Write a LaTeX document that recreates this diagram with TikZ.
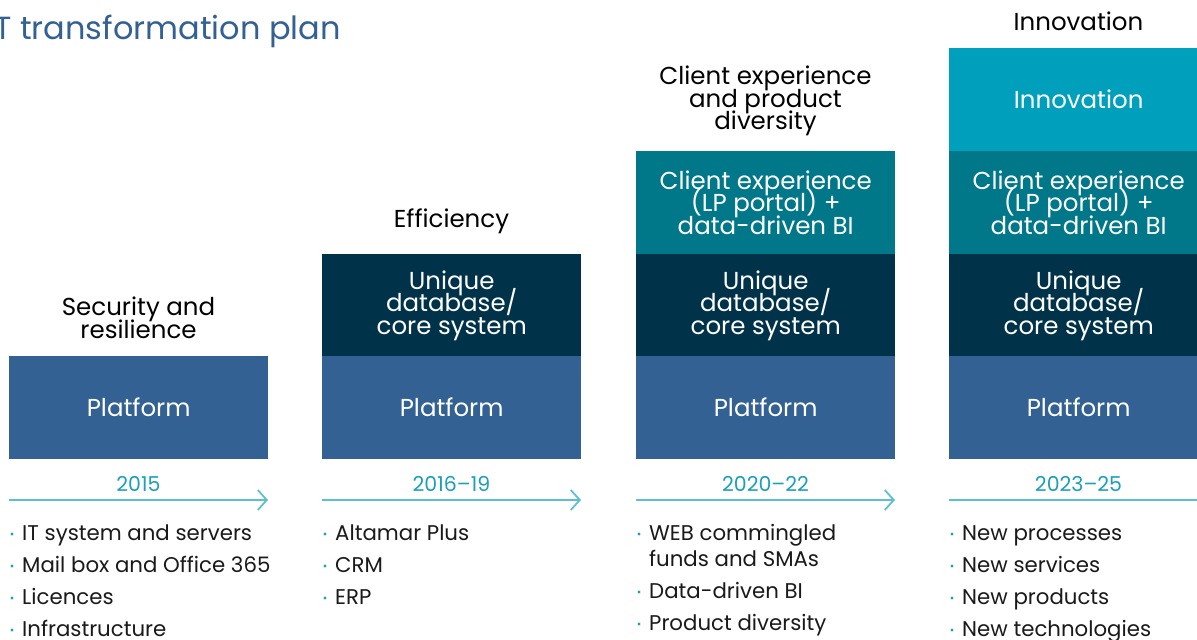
\documentclass[tikz,border=0pt]{standalone}
\usepackage{fontspec}
\setmainfont{Poppins}[Ligatures=TeX]
\usetikzlibrary{arrows.meta}
\definecolor{platformblue}{HTML}{336194}
\definecolor{coreblue}{HTML}{003349}
\definecolor{clientteal}{HTML}{00788A}
\definecolor{innovteal}{HTML}{00A0BD}
\definecolor{yearteal}{HTML}{1AA0B8}
\definecolor{lineteal}{HTML}{5EC0CF}
\definecolor{titleblue}{HTML}{336194}
\definecolor{bodytext}{HTML}{1A1A1A}
% fixed leading, even when lines come close
\newcommand{\tightfont}[2]{\fontsize{#1}{#2}\selectfont\lineskiplimit=-100pt\lineskip=0pt}
\tikzset{
  layer/.style={minimum width=259pt, minimum height=103pt, inner sep=0pt,
    anchor=north west, text=white, align=center,
    font=\tightfont{24.5}{22.7}},
  heading/.style={text=black, align=center, inner sep=0pt,
    font=\tightfont{24.5}{22.7}},
  year/.style={text=yearteal, inner sep=0pt, font=\tightfont{20.5}{22}},
  timeline/.style={draw=lineteal, line width=1.8pt,
    -{Straight Barb[length=9pt,width=20pt,line width=1.8pt]}},
  item/.style={anchor=base west, inner sep=0pt, text=bodytext,
    font=\tightfont{21.3}{26}, align=left},
  dot/.style={fill=yearteal, circle, inner sep=0pt, minimum size=3.2pt}
}
\begin{document}
\begin{tikzpicture}[x=1pt,y=-1pt]
\useasboundingbox (0,0) rectangle (1197,640);
\fill[white] (0,0) rectangle (1197,640);
\clip (0,0) rectangle (1197,640);

% title
\node[anchor=base east, inner sep=0pt, text=titleblue,
  font=\tightfont{32}{36}] (title) at (341,39) {IT transformation plan};

% column 1: 2015
\node[heading] (h1) at (138.5,318) {Security and\\resilience};
\node[layer, fill=platformblue] (p1) at (9,356) {Platform};

% column 2: 2016-19
\node[heading] (h2) at (451.5,221) {Efficiency};
\node[layer, fill=coreblue] (c2) at (322,254) {Unique\\database/\\core system};
\node[layer, fill=platformblue] (p2) at (322,356) {Platform};

% column 3: 2020-22
\node[heading] (h3) at (765.5,101) {Client experience\\and product\\diversity};
\node[layer, fill=clientteal] (x3) at (636,151) {Client experience\\(LP portal) +\\data-driven BI};
\node[layer, fill=coreblue] (c3) at (636,254) {Unique\\database/\\core system};
\node[layer, fill=platformblue] (p3) at (636,356) {Platform};

% column 4: 2023-25
\node[heading] (h4) at (1078.5,21) {Innovation};
\node[layer, fill=innovteal] (i4) at (949,48) {Innovation};
\node[layer, fill=clientteal] (x4) at (949,151) {Client experience\\(LP portal) +\\data-driven BI};
\node[layer, fill=coreblue] (c4) at (949,254) {Unique\\database/\\core system};
\node[layer, fill=platformblue] (p4) at (949,356) {Platform};

% timelines
\foreach \k/\xs/\xe/\xm/\yr in {1/9/268/138.5/2015, 2/322/581/451.5/2016–19,
    3/636/895/765.5/2020–22, 4/949/1215/1078.5/2023–25}{
  \coordinate (ts\k) at (\xs,500);
  \coordinate (te\k) at (\xe,500);
  \node[year] (y\k) at (\xm,484) {\yr};
  \draw[timeline] (ts\k) -- (te\k);
}

% item lists (the wrapped item sits on its last baseline)
\foreach \k/\bx/\txt/\by/\dy in {
  a1/12/IT system and servers/540/540, a2/12/Mail box and Office 365/572/572,
  a3/12/Licences/604/604, a4/12/Infrastructure/636/636,
  b1/325/Altamar Plus/540/540, b2/325/CRM/572/572, b3/325/ERP/604/604,
  c1/639/{WEB commingled\\funds and SMAs}/566/540, c2/639/Data-driven BI/598/598,
  c3/639/Product diversity/630/630,
  d1/952/New processes/540/540, d2/952/New services/572/572,
  d3/952/New products/604/604, d4/952/New technologies/636/636}{
  \node[item] (t\k) at (\bx+10,\by) {\txt};
  \node[dot] (d\k) at (\bx,\dy-6) {};
}
\end{tikzpicture}
\end{document}
